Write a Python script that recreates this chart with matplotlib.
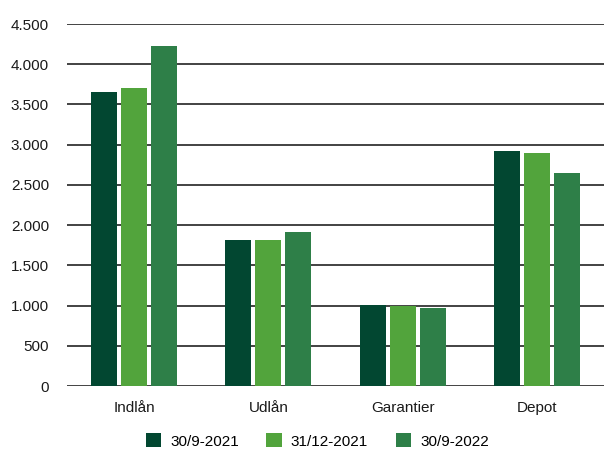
import numpy as np
import matplotlib.pyplot as plt
from matplotlib.ticker import FuncFormatter

plt.rcParams['font.family'] = ['Liberation Sans', 'DejaVu Sans']

# data
categories = ['Indlån', 'Udlån', 'Garantier', 'Depot']
series_names = ['30/9-2021', '31/12-2021', '30/9-2022']
v_2021q3 = [3655, 1815, 1003, 2921]
v_2021q4 = [3705, 1815, 995, 2897]
v_2022q3 = [4227, 1914, 970, 2648]
colors = ['#024731', '#52a43c', '#2e7f48']

fig = plt.figure(figsize=(6.04, 4.5), dpi=100)
ax = fig.add_axes([67/604, 1-386/450, 537/604, 362/450])

x = np.arange(len(categories))
width = 0.194
step = 0.224
for i, (vals, name) in enumerate(zip([v_2021q3, v_2021q4, v_2022q3], series_names)):
    ax.bar(x + (i-1)*step, vals, width=width, color=colors[i], label=name, zorder=3)

ax.set_xlim(-0.5, len(categories)-0.5)
ax.set_ylim(0, 4500)
ax.set_yticks(np.arange(0, 4501, 500))
ax.yaxis.set_major_formatter(FuncFormatter(lambda v, p: f'{int(v):,}'.replace(',', '.')))
ax.grid(axis='y', color='#222222', linewidth=1.2, zorder=0)
for s in ax.spines.values():
    s.set_visible(False)
ax.tick_params(axis='both', length=0, labelsize=11, colors='#1a1a1a')
ax.tick_params(axis='y', pad=13)
ax.tick_params(axis='x', pad=11)
ax.set_xticks(x)
ax.set_xticklabels(categories)

ax.legend(loc='center', bbox_to_anchor=(0.466, -0.152), ncol=3, frameon=False,
          fontsize=11, handlelength=1.0, handleheight=1.0, columnspacing=1.8,
          handletextpad=0.6, borderaxespad=0)

fig.savefig('out.png', dpi=100)
